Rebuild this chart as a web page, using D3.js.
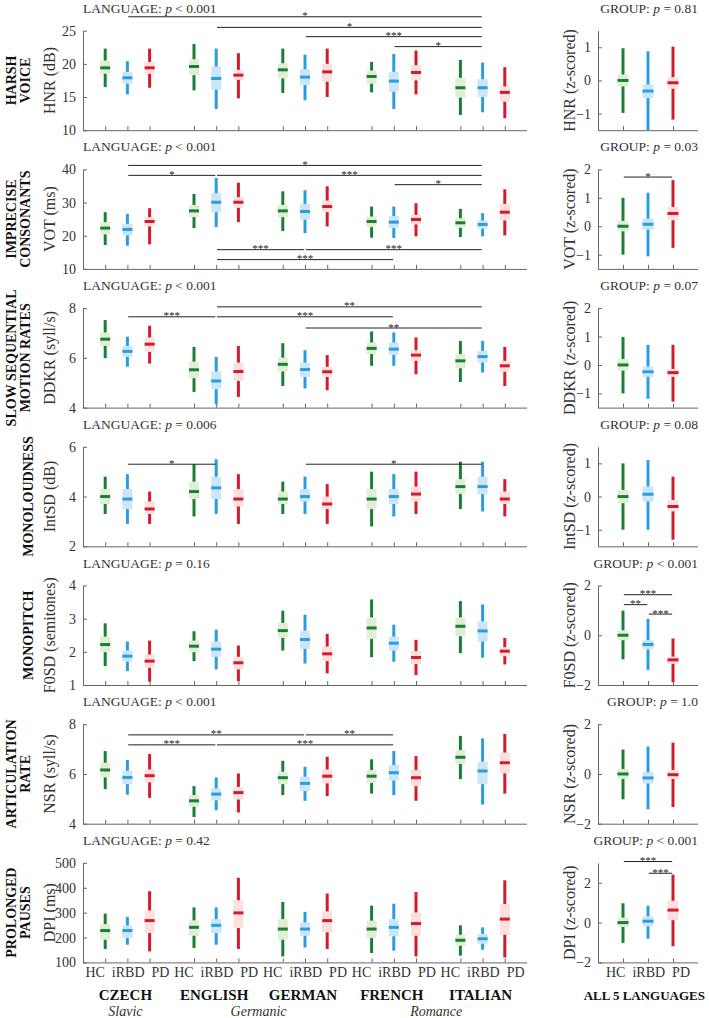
<!DOCTYPE html>
<html><head><meta charset="utf-8">
<script src="https://cdn.jsdelivr.net/npm/d3@7"></script>
<style>
body{margin:0;background:#fff}
svg{display:block}
text{font-family:"Liberation Serif","DejaVu Serif",serif}
</style>
</head><body><svg id="c" width="709" height="1018" fill="#333"></svg>
<script>
// ---------- DATA ----------
const groups = ["HC","iRBD","PD"];
const languages = ["CZECH","ENGLISH","GERMAN","FRENCH","ITALIAN"];
const families = [{name:"Slavic",from:0,to:0},{name:"Germanic",from:1,to:2},{name:"Romance",from:3,to:4}];

// each tuple: [low whisker, q1, median, q3, high whisker]; order: language x group
const hnrLang = [[16.5,18.5,19.4,20.5,22.3],[15.4,17.0,17.9,18.8,20.4],[16.4,18.5,19.4,20.3,22.3],
 [16.0,18.3,19.6,20.7,23.0],[13.2,16.1,17.8,19.6,22.3],[14.8,17.6,18.3,19.1,21.6],
 [15.6,17.8,19.1,20.1,22.3],[14.5,16.8,18.0,19.2,21.4],[15.0,17.3,18.8,20.0,22.3],
 [15.7,17.0,18.1,19.0,20.3],[13.2,15.8,17.4,18.8,21.5],[15.4,17.5,18.7,19.8,22.0],
 [12.3,14.9,16.4,17.9,20.6],[12.7,15.0,16.4,17.7,20.2],[11.8,14.3,15.7,16.6,19.5]];
const hnrAll = [[-0.98,-0.18,0,0.18,0.97],[-1.5,-0.53,-0.32,-0.12,0.88],[-1.18,-0.25,-0.07,0.1,1.02]];
const hnrSig = [[1,13,27.1,"*"],[4,13,25.5,"*"],[7,13,24.1,"***"],[10,13,22.6,"*"]];
const hnrAllSig = [];

const votLang = [[17.2,20.4,22.3,24.1,27.1],[17.0,20.1,21.9,23.6,26.6],[17.4,22.8,24.3,25.6,28.3],
 [22.3,25.6,27.5,29.3,32.6],[22.6,27.1,30.1,32.8,37.4],[24.1,28.4,30.1,31.6,36.0],
 [21.4,25.6,27.5,29.3,33.4],[20.8,24.8,27.3,29.6,33.7],[22.8,27.1,28.8,30.6,34.9],
 [19.4,22.6,24.3,25.8,28.8],[19.3,22.3,24.1,25.9,28.8],[19.8,23.4,24.9,26.3,29.8],
 [19.6,22.4,23.9,25.3,28.1],[19.8,22.1,23.4,24.6,26.8],[20.1,24.6,27.1,29.6,34.0]];
const votAll = [[-1.0,-0.18,0,0.19,1.0],[-1.06,-0.12,0.07,0.27,1.18],[-0.76,0.21,0.45,0.68,1.62]];
const votSig = [[1,13,41.2,"*"],[1,4,38.2,"*"],[4,13,38.2,"***"],[10,13,35.4,"*"],[4,7,15.8,"***"],[7,13,15.8,"***"],[4,10,12.8,"***"]];
const votAllSig = [[0,2,1.73,"*"]];

const ddkLang = [[5.99,6.48,6.75,7.02,7.52],[5.64,6.04,6.26,6.48,6.85],[5.77,6.24,6.55,6.82,7.29],
 [4.63,5.18,5.52,5.85,6.44],[4.13,4.74,5.07,5.45,6.04],[4.43,5.07,5.45,5.81,6.48],
 [4.87,5.45,5.74,6.01,6.59],[4.77,5.23,5.53,5.81,6.31],[4.70,5.23,5.44,5.64,6.11],
 [5.68,6.15,6.38,6.62,7.06],[5.68,6.12,6.35,6.62,7.02],[5.34,5.88,6.11,6.31,6.82],
 [5.03,5.58,5.88,6.15,6.68],[5.41,5.81,6.05,6.28,6.68],[4.87,5.44,5.68,5.88,6.44]];
const ddkAll = [[-1.0,-0.2,0,0.21,0.98],[-1.19,-0.42,-0.24,-0.06,0.71],[-1.29,-0.42,-0.27,-0.14,0.71]];
const ddkSig = [[1,4,7.65,"***"],[4,13,8.05,"**"],[4,10,7.65,"***"],[7,13,7.2,"**"]];
const ddkAllSig = [];

const intLang = [[3.3,3.7,4.0,4.3,4.8],[2.9,3.5,3.9,4.3,4.9],[2.9,3.3,3.5,3.8,4.2],
 [3.2,3.9,4.2,4.6,5.3],[3.3,3.9,4.35,4.8,5.5],[2.9,3.6,3.9,4.3,4.9],
 [3.3,3.7,3.9,4.2,4.6],[3.3,3.8,4.0,4.3,4.8],[2.9,3.5,3.7,4.0,4.5],
 [2.8,3.5,3.9,4.3,5.0],[3.2,3.7,4.0,4.3,4.9],[3.3,3.8,4.1,4.4,5.0],
 [3.5,4.1,4.4,4.7,5.4],[3.4,4.1,4.4,4.8,5.4],[3.2,3.7,3.9,4.2,4.7]];
const intAll = [[-1.0,-0.2,0,0.2,1.0],[-1.0,-0.15,0.07,0.3,1.1],[-1.3,-0.45,-0.3,-0.1,0.6]];
const intSig = [[1,4,5.3,"*"],[7,13,5.3,"*"]];
const intAllSig = [];

const fosLang = [[1.57,1.99,2.22,2.46,2.86],[1.42,1.70,1.87,2.04,2.31],[1.10,1.52,1.72,1.92,2.34],
 [1.72,1.99,2.17,2.34,2.62],[1.47,1.85,2.08,2.31,2.67],[1.12,1.47,1.67,1.85,2.19],
 [2.04,2.42,2.64,2.87,3.24],[1.65,2.09,2.37,2.64,3.12],[1.35,1.72,1.94,2.16,2.54],
 [1.84,2.39,2.72,3.04,3.58],[1.70,2.04,2.26,2.46,2.82],[1.30,1.63,1.83,2.02,2.36],
 [1.96,2.47,2.77,3.04,3.53],[1.82,2.31,2.63,2.92,3.43],[1.62,1.87,2.02,2.14,2.42]];
const fosAll = [[-0.97,-0.2,0,0.2,0.99],[-1.39,-0.57,-0.37,-0.2,0.66],[-1.89,-1.15,-0.99,-0.86,-0.13]];
const fosSig = [];
const fosAllSig = [[0,2,1.63,"***"],[0,1,1.23,"**"],[1,2,0.85,"***"]];

const nsrLang = [[5.39,5.86,6.16,6.45,6.92],[5.17,5.59,5.86,6.13,6.56],[5.04,5.66,5.93,6.18,6.80],
 [4.27,4.68,4.92,5.15,5.51],[4.54,4.94,5.19,5.42,5.86],[4.45,4.97,5.25,5.48,6.02],
 [5.15,5.59,5.85,6.09,6.53],[4.92,5.31,5.62,5.89,6.29],[5.11,5.62,5.91,6.18,6.69],
 [5.21,5.64,5.91,6.16,6.59],[5.15,5.73,6.05,6.36,6.92],[4.92,5.51,5.85,6.16,6.72],
 [5.79,6.40,6.67,6.96,7.53],[4.77,5.59,6.12,6.50,7.43],[5.21,6.02,6.45,6.86,7.61]];
const nsrAll = [[-1.02,-0.2,0,0.2,0.98],[-1.42,-0.38,-0.16,0.07,1.11],[-1.33,-0.2,-0.03,0.16,1.26]];
const nsrSig = [[1,7,7.57,"**"],[7,10,7.57,"**"],[1,4,7.17,"***"],[4,10,7.17,"***"]];
const nsrAllSig = [];

const dpiLang = [[154,191,228,254,296],[171,198,228,248,283],[144,218,268,309,386],
 [158,207,241,269,321],[171,218,249,274,321],[154,238,299,350,440],
 [124,191,234,274,343],[160,207,234,261,303],[154,221,268,305,377],
 [138,198,234,268,328],[147,205,241,274,336],[124,207,256,301,383],
 [127,167,189,211,249],[151,175,195,215,241],[120,211,274,335,430]];
const dpiAll = [[-1.02,-0.22,0,0.25,0.97],[-0.81,-0.19,0.07,0.32,0.85],[-1.19,0.12,0.63,1.1,2.41]];
const dpiSig = [];
const dpiAllSig = [[0,2,3.07,"***"],[1,2,2.48,"***"]];

const rowTitles = [["HARSH","VOICE"],["IMPRECISE","CONSONANTS"],["SLOW SEQUENTIAL","MOTION RATES"],["MONOLOUDNESS"],["MONOPITCH"],["ARTICULATION","RATE"],["PROLONGED","PAUSES"]];
const yLabels = ["HNR (dB)","VOT (ms)","DDKR (syll/s)","IntSD (dB)","F0SD (semitones)","NSR (syll/s)","DPI (ms)"];
const yLabelsZ = ["HNR (z-scored)","VOT (z-scored)","DDKR (z-scored)","IntSD (z-scored)","F0SD (z-scored)","NSR (z-scored)","DPI (z-scored)"];
const langP = ["< 0.001","< 0.001","< 0.001","= 0.006","= 0.16","< 0.001","= 0.42"];
const groupP = ["= 0.81","= 0.03","= 0.07","= 0.08","< 0.001","= 1.0","< 0.001"];
const leftDomains = [[10,25],[10,40],[4,8],[2,6],[1,4],[4,8],[100,500]];
const leftTicks = [[10,15,20,25],[10,20,30,40],[4,6,8],[2,4,6],[1,2,3,4],[4,6,8],[100,200,300,400,500]];
const rightDomains = [[-1.5,1.5],[-1.5,2],[-1.5,2],[-1.5,1.5],[-2,2],[-2,2],[-2,3]];
const rightTicks = [[-1,0,1],[-1,0,1,2],[-1,0,1,2],[-1,0,1],[-2,0,2],[-2,0,2],[-2,0,2]];
const langData = [hnrLang,votLang,ddkLang,intLang,fosLang,nsrLang,dpiLang];
const allData = [hnrAll,votAll,ddkAll,intAll,fosAll,nsrAll,dpiAll];
const langSigs = [hnrSig,votSig,ddkSig,intSig,fosSig,nsrSig,dpiSig];
const allSigs = [hnrAllSig,votAllSig,ddkAllSig,intAllSig,fosAllSig,nsrAllSig,dpiAllSig];

// ---------- STYLE ----------
const dark = ["#1a7f35","#2a9de0","#d51a2c"];
const light = ["#e0eed6","#cce5f7","#fbe0e0"];
const axisCol = "#666";

const svg = d3.select("#c");
const xL = d3.scaleLinear().domain([0,20]).range([83,527]);
const xR = d3.scaleLinear().domain([0,4]).range([598,698]);
const posL = i => Math.floor(i/3)*4 + (i%3) + 1;
const posR = i => i + 1;
const rowTop = r => 30.7 + r*138.7;
const rowH = 99.5;

function pText(g, x, y, label, p, anchor){
  const t = g.append("text").attr("x",x).attr("y",y).attr("font-size",13.5).attr("text-anchor",anchor).attr("fill","#333");
  t.append("tspan").text(label + ": ");
  t.append("tspan").attr("font-style","italic").text("p");
  t.append("tspan").text(" " + p);
}

function drawBoxes(g, data, x, pos, y, bw){
  data.forEach((d,i)=>{
    const cx = x(pos(i)), gi = i%3;
    const bg = g.append("g");
    bg.append("line").attr("x1",cx).attr("x2",cx).attr("y1",y(d[0])).attr("y2",y(d[4]))
      .attr("stroke",dark[gi]).attr("stroke-width",3);
    bg.append("rect").attr("x",cx-bw/2).attr("width",bw).attr("y",y(d[3])).attr("height",y(d[1])-y(d[3]))
      .attr("fill",light[gi]);
    bg.append("line").attr("x1",cx-bw/2).attr("x2",cx+bw/2).attr("y1",y(d[2])).attr("y2",y(d[2]))
      .attr("stroke",dark[gi]).attr("stroke-width",3);
  });
}

function drawSigs(g, sigs, x, pos, y){
  sigs.forEach(s=>{
    const x1 = x(pos(s[0]))+0.8, x2 = x(pos(s[1]))-0.8, yy = y(s[2]);
    g.append("line").attr("x1",x1).attr("x2",x2).attr("y1",yy).attr("y2",yy).attr("stroke","#222").attr("stroke-width",1);
    g.append("text").attr("x",(x1+x2)/2).attr("y",yy+2.5).attr("text-anchor","middle").attr("font-size",11).attr("fill","#222").text(s[3]);
  });
}

function styleAxis(sel){
  sel.select(".domain").attr("stroke",axisCol);
  sel.selectAll(".tick line").attr("stroke",axisCol);
  sel.selectAll("text").attr("font-family",'"Liberation Serif","DejaVu Serif",serif').attr("font-size",14).attr("fill","#333");
}

for(let r=0;r<7;r++){
  const top = rowTop(r), bot = top + rowH, mid = (top+bot)/2;
  const yL = d3.scaleLinear().domain(leftDomains[r]).range([bot,top]);
  const yR = d3.scaleLinear().domain(rightDomains[r]).range([bot,top]);
  const g = svg.append("g");

  // row title
  const lines = rowTitles[r];
  lines.forEach((t,k)=>{
    const xx = lines.length===1 ? 33 : 16 + k*13.5;
    g.append("text").attr("transform",`translate(${xx},${mid}) rotate(-90)`).attr("text-anchor","middle")
      .attr("font-weight","bold").attr("font-size",14).attr("fill","#111").text(t);
  });

  // y labels
  g.append("text").attr("transform",`translate(55,${mid}) rotate(-90)`).attr("text-anchor","middle").attr("font-size",16).attr("fill","#333").text(yLabels[r]);
  g.append("text").attr("transform",`translate(575,${mid}) rotate(-90)`).attr("text-anchor","middle").attr("font-size",16).attr("fill","#333").text(yLabelsZ[r]);

  // headers
  pText(g, 83, top-18, "LANGUAGE", langP[r], "start");
  pText(g, 698, top-18, "GROUP", groupP[r], "end");

  // axes left
  const axY = g.append("g").attr("transform","translate(83,0)")
    .call(d3.axisLeft(yL).tickValues(leftTicks[r]).tickSize(-4).tickSizeOuter(0).tickPadding(7).tickFormat(d3.format("d")));
  styleAxis(axY);
  const axX = g.append("g").attr("transform",`translate(0,${bot})`)
    .call(d3.axisBottom(xL).tickValues(d3.range(15).map(posL)).tickSize(-4).tickSizeOuter(0).tickFormat(""));
  styleAxis(axX);
  axX.select(".domain").attr("d",`M${xL(0)},0.5H${xL(20)}`);

  // axes right
  const axYR = g.append("g").attr("transform","translate(598,0)")
    .call(d3.axisLeft(yR).tickValues(rightTicks[r]).tickSize(-4).tickSizeOuter(0).tickPadding(7).tickFormat(d3.format("d")));
  styleAxis(axYR);
  const axXR = g.append("g").attr("transform",`translate(0,${bot})`)
    .call(d3.axisBottom(xR).tickValues([1,2,3]).tickSize(-4).tickSizeOuter(0).tickFormat(""));
  styleAxis(axXR);
  axXR.select(".domain").attr("d",`M${xR(0)},0.5H${xR(4)}`);

  drawBoxes(g, langData[r], xL, posL, yL, 10);
  drawBoxes(g, allData[r], xR, posR, yR, 11);
  drawSigs(g, langSigs[r], xL, posL, yL);
  drawSigs(g, allSigs[r], xR, posR, yR);
}

// bottom labels
const bottomY = rowTop(6) + rowH;
languages.forEach((l,i)=>{
  const cx = xL(posL(i*3+1));
  svg.append("text").attr("x",cx).attr("y",bottomY+15).attr("text-anchor","middle").attr("font-size",14).attr("fill","#333")
    .attr("xml:space","preserve").text(groups.join("  "));
  svg.append("text").attr("x",cx-2).attr("y",bottomY+38).attr("text-anchor","middle").attr("font-size",15)
    .attr("font-weight","bold").attr("fill","#111").text(l);
});
families.forEach(f=>{
  const cx = (xL(posL(f.from*3+1)) + xL(posL(f.to*3+1)))/2;
  svg.append("text").attr("x",cx-2).attr("y",bottomY+54).attr("text-anchor","middle").attr("font-size",14).attr("fill","#333")
    .attr("font-style","italic").text(f.name);
});
svg.append("text").attr("x",xR(2)).attr("y",bottomY+15).attr("text-anchor","middle").attr("font-size",14).attr("fill","#333")
  .attr("xml:space","preserve").text(groups.join("  "));
svg.append("text").attr("x",705).attr("y",bottomY+38).attr("text-anchor","end").attr("font-size",13)
  .attr("font-weight","bold").attr("fill","#111").text("ALL 5 LANGUAGES");
</script>
</body></html>
